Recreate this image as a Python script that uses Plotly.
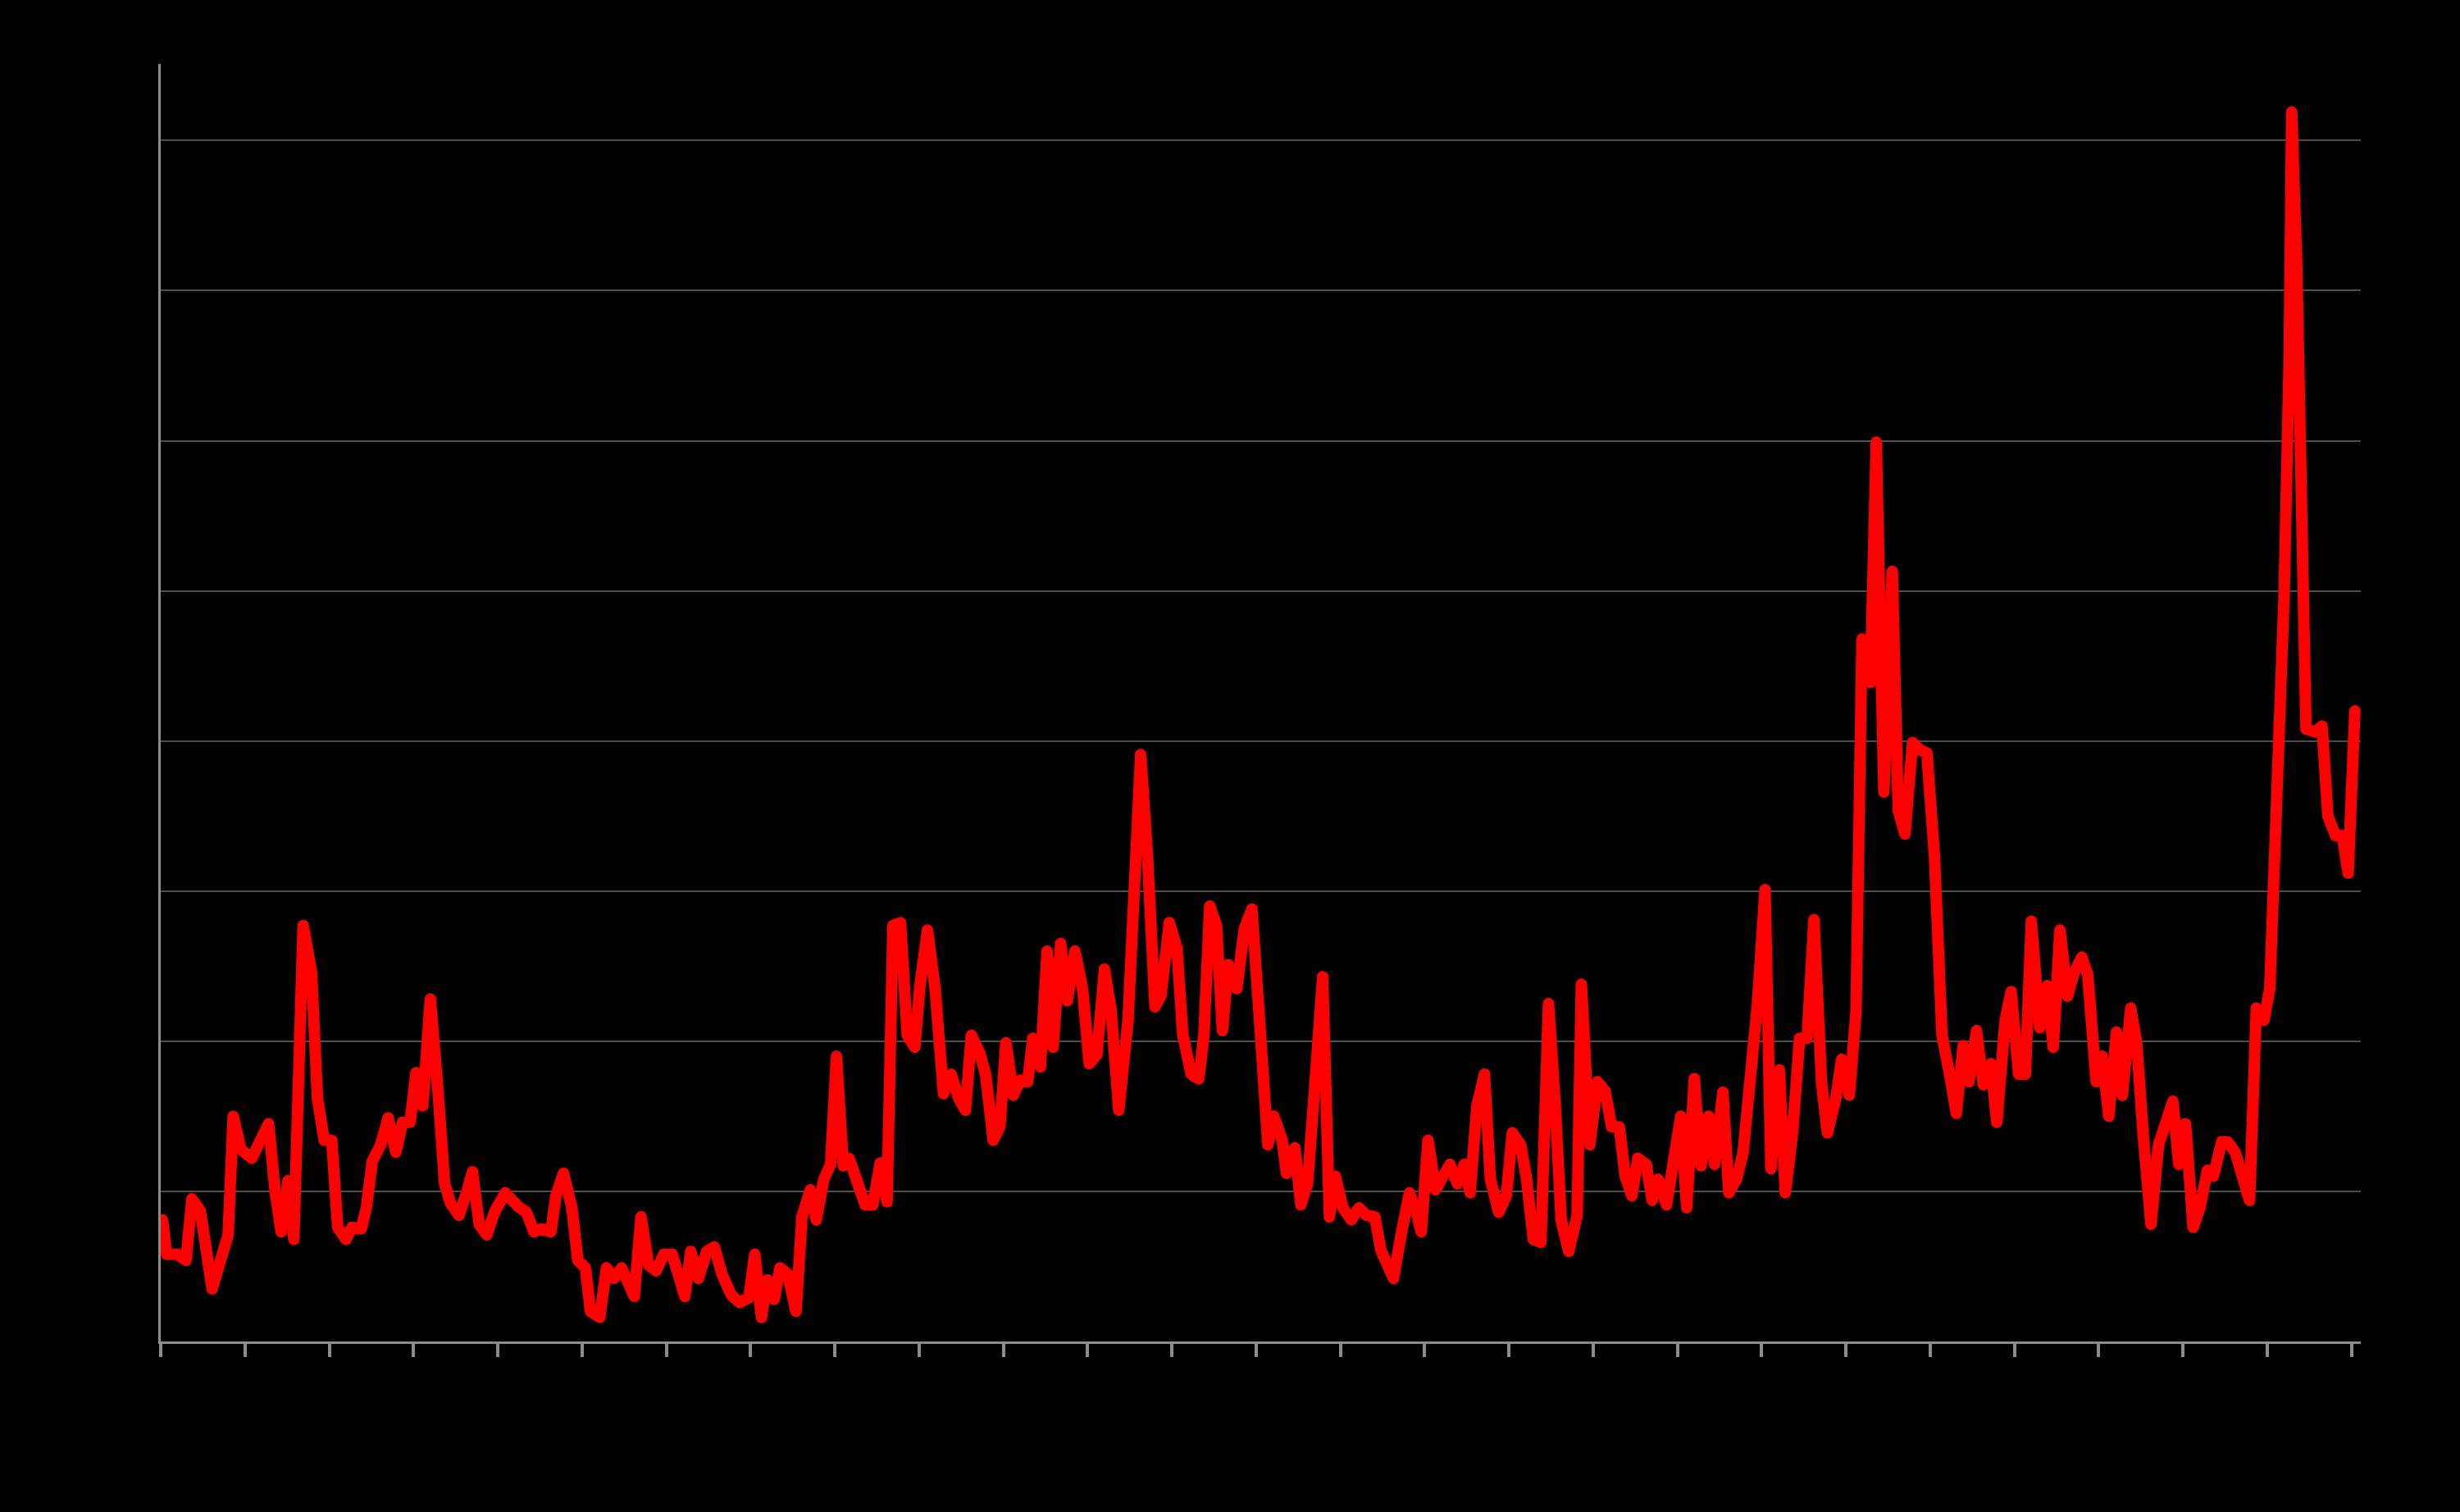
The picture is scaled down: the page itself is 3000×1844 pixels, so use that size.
import plotly.graph_objects as go

# position along the time axis (one unit per major tick) and series value
x_pos = [0.02, 0.07, 0.20, 0.30, 0.37, 0.47, 0.61, 0.80, 0.86, 0.95, 1.08, 1.17, 1.28, 1.36, 1.43, 1.51, 1.58, 1.64, 1.69, 1.79,
         1.86, 1.94, 2.03, 2.10, 2.20, 2.27, 2.38, 2.44, 2.51, 2.61, 2.70, 2.79, 2.87, 2.96, 3.03, 3.11, 3.20, 3.29, 3.37, 3.44,
         3.54, 3.63, 3.70, 3.78, 3.87, 3.96, 4.09, 4.24, 4.34, 4.43, 4.52, 4.63, 4.69, 4.78, 4.88, 4.95, 5.04, 5.10, 5.21, 5.29,
         5.38, 5.47, 5.55, 5.62, 5.70, 5.79, 5.88, 5.97, 6.07, 6.14, 6.22, 6.29, 6.38, 6.48, 6.57, 6.66, 6.77, 6.87, 6.98, 7.05,
         7.13, 7.20, 7.28, 7.35, 7.44, 7.54, 7.61, 7.71, 7.78, 7.87, 7.95, 8.02, 8.10, 8.17, 8.26, 8.36, 8.45, 8.54, 8.62, 8.69,
         8.78, 8.86, 8.95, 9.01, 9.10, 9.19, 9.29, 9.38, 9.47, 9.55, 9.62, 9.72, 9.79, 9.88, 9.96, 10.03, 10.12, 10.20, 10.29, 10.35,
         10.44, 10.52, 10.59, 10.68, 10.76, 10.85, 10.94, 11.02, 11.11, 11.20, 11.28, 11.37, 11.48, 11.56, 11.63, 11.71, 11.80, 11.87, 11.97, 12.06,
         12.13, 12.23, 12.32, 12.38, 12.45, 12.53, 12.60, 12.67, 12.77, 12.86, 12.95, 13.05, 13.14, 13.21, 13.31, 13.36, 13.46, 13.53, 13.61, 13.70,
         13.79, 13.87, 13.94, 14.03, 14.13, 14.22, 14.31, 14.41, 14.48, 14.55, 14.63, 14.72, 14.82, 14.91, 14.96, 15.04, 15.13, 15.22, 15.30, 15.39,
         15.47, 15.54, 15.62, 15.71, 15.78, 15.88, 15.97, 16.04, 16.14, 16.21, 16.29, 16.38, 16.47, 16.55, 16.62, 16.71, 16.81, 16.86, 16.96, 17.05,
         17.14, 17.22, 17.31, 17.38, 17.46, 17.53, 17.63, 17.70, 17.77, 17.87, 17.94, 18.04, 18.11, 18.20, 18.28, 18.37, 18.44, 18.54, 18.61, 18.70,
         18.78, 18.85, 18.95, 19.04, 19.11, 19.21, 19.28, 19.37, 19.45, 19.54, 19.62, 19.71, 19.78, 19.88, 19.95, 20.04, 20.12, 20.19, 20.29, 20.36,
         20.45, 20.55, 20.62, 20.70, 20.79, 20.88, 20.96, 21.05, 21.14, 21.24, 21.31, 21.39, 21.46, 21.55, 21.63, 21.72, 21.79, 21.89, 21.96, 22.05,
         22.13, 22.20, 22.30, 22.39, 22.46, 22.54, 22.63, 22.71, 22.80, 22.87, 22.97, 23.04, 23.12, 23.21, 23.28, 23.38, 23.45, 23.53, 23.62, 23.71,
         23.80, 23.88, 23.95, 24.03, 24.12, 24.20, 24.29, 24.36, 24.46, 24.53, 24.62, 24.70, 24.79, 24.87, 24.96, 25.03, 25.11, 25.20, 25.26, 25.29,
         25.35, 25.40, 25.46, 25.57, 25.65, 25.72, 25.81, 25.89, 25.96, 26.04]

vals = [0.81, 0.58, 0.58, 0.54, 0.95, 0.87, 0.35, 0.71, 1.50, 1.28, 1.22, 1.31, 1.45, 0.99, 0.73, 1.07, 0.68, 1.83, 2.77, 2.46,
        1.62, 1.34, 1.34, 0.76, 0.68, 0.76, 0.75, 0.89, 1.20, 1.31, 1.49, 1.26, 1.46, 1.46, 1.79, 1.57, 2.28, 1.67, 1.05, 0.92,
        0.84, 0.99, 1.13, 0.78, 0.71, 0.86, 0.99, 0.90, 0.86, 0.73, 0.75, 0.73, 0.97, 1.12, 0.89, 0.54, 0.49, 0.20, 0.16, 0.49,
        0.42, 0.49, 0.39, 0.30, 0.83, 0.51, 0.47, 0.58, 0.58, 0.42, 0.30, 0.60, 0.42, 0.60, 0.63, 0.45, 0.31, 0.26, 0.29, 0.58,
        0.16, 0.41, 0.28, 0.49, 0.45, 0.20, 0.83, 1.01, 0.81, 1.08, 1.18, 1.90, 1.17, 1.22, 1.08, 0.91, 0.91, 1.19, 0.93, 2.77,
        2.79, 2.04, 1.96, 2.37, 2.74, 2.35, 1.65, 1.78, 1.62, 1.54, 2.04, 1.92, 1.78, 1.34, 1.43, 1.99, 1.64, 1.74, 1.73, 2.02,
        1.83, 2.60, 1.96, 2.65, 2.27, 2.60, 2.35, 1.85, 1.91, 2.48, 2.20, 1.54, 2.14, 2.96, 3.91, 3.24, 2.23, 2.30, 2.79, 2.62,
        2.04, 1.78, 1.75, 2.04, 2.90, 2.77, 2.07, 2.51, 2.35, 2.75, 2.88, 2.06, 1.31, 1.50, 1.34, 1.12, 1.29, 0.91, 1.05, 1.73,
        2.43, 0.83, 1.10, 0.89, 0.81, 0.89, 0.84, 0.83, 0.61, 0.52, 0.42, 0.71, 0.99, 0.84, 0.73, 1.34, 1.01, 1.10, 1.18, 1.05,
        1.18, 0.99, 1.57, 1.78, 1.08, 0.86, 0.97, 1.39, 1.31, 1.08, 0.68, 0.66, 2.25, 1.57, 0.81, 0.60, 0.84, 2.38, 1.31, 1.73,
        1.67, 1.43, 1.43, 1.10, 0.97, 1.22, 1.18, 0.94, 1.08, 0.91, 1.20, 1.50, 0.89, 1.75, 1.17, 1.50, 1.18, 1.66, 0.99, 1.08,
        1.26, 1.62, 2.25, 3.01, 1.15, 1.81, 0.99, 1.41, 2.02, 2.02, 2.81, 1.73, 1.39, 1.62, 1.88, 1.64, 2.20, 4.68, 4.39, 5.99,
        3.66, 5.13, 3.54, 3.38, 3.99, 3.94, 3.92, 3.24, 2.04, 1.75, 1.52, 1.97, 1.73, 2.07, 1.71, 1.85, 1.46, 2.14, 2.33, 1.78,
        1.78, 2.80, 2.09, 2.37, 1.96, 2.74, 2.30, 2.46, 2.56, 2.44, 1.73, 1.90, 1.50, 2.06, 1.64, 2.22, 1.99, 1.36, 0.78, 1.31,
        1.46, 1.60, 1.18, 1.45, 0.76, 0.89, 1.14, 1.10, 1.33, 1.33, 1.26, 1.12, 0.94, 2.22, 2.14, 2.35, 3.40, 4.97, 6.54, 8.19,
        7.17, 5.91, 4.08, 4.06, 4.10, 3.50, 3.37, 3.37, 3.12, 4.20]

major_ticks = list(range(0, 27))

fig = go.Figure()
fig.add_trace(go.Scatter(x=x_pos, y=vals, mode="lines",
                         line=dict(color="#ff0000", width=14),
                         showlegend=False, hoverinfo="skip"))

fig.update_layout(
    width=3000, height=1844,
    paper_bgcolor="black", plot_bgcolor="black",
    margin=dict(l=196, r=121, t=78, b=208),
    showlegend=False,
)
fig.update_xaxes(range=[0, 26.11], tickvals=major_ticks, showticklabels=False,
                 ticks="outside", ticklen=16, tickwidth=4, tickcolor="#8c8c8c",
                 showline=True, linecolor="#8c8c8c", linewidth=3,
                 showgrid=False, zeroline=False)
fig.update_yaxes(range=[0, 8.51], dtick=1, showticklabels=False,
                 showgrid=True, gridcolor="#4d4d4d", gridwidth=2,
                 showline=True, linecolor="#8c8c8c", linewidth=3,
                 zeroline=False, ticks="")

# no page margin, black page, rounded line joins
js = """
document.body.style.margin = '0';
document.body.style.background = 'black';
document.querySelectorAll('.js-line').forEach(function (p) {
    p.style.strokeLinejoin = 'round';
    p.style.strokeLinecap = 'round';
});
"""
fig.write_html("out.html", post_script=js, config={"displayModeBar": False})
